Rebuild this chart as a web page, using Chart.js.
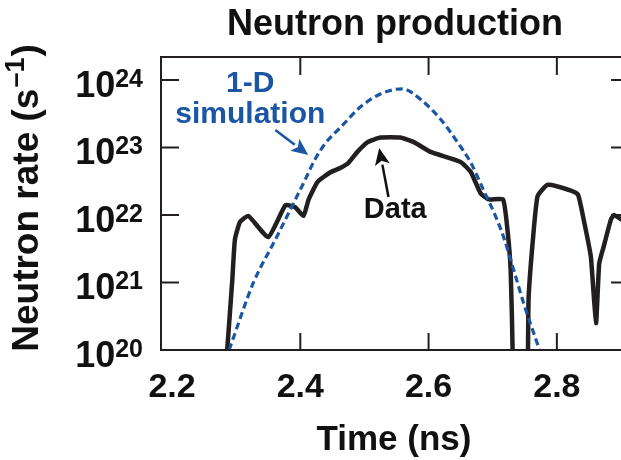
<!DOCTYPE html>
<html>
<head>
<meta charset="utf-8">
<style>
  html, body { margin: 0; padding: 0; background: #fff; }
  #wrap { width: 621px; height: 460px; }
</style>
</head>
<body>
<div id="wrap"><canvas id="chartneutron" width="621" height="460"></canvas></div>
<script src="https://cdn.jsdelivr.net/npm/chart.js@4/dist/chart.umd.min.js"></script>
<script>

// Data Storage {

    // Measured neutron rate (time in ns, rate in 1/s) {

        const dt = [
            2.286, 2.294, 2.298, 2.306, 2.319, 2.350, 2.377, 2.392, 2.405, 2.413,
            2.427, 2.447, 2.463, 2.475, 2.489, 2.505, 2.525, 2.556, 2.577, 2.603,
            2.650, 2.666, 2.681, 2.694, 2.716, 2.723, 2.728, 2.731, 2.733, 2.753,
            2.755, 2.756, 2.763, 2.770, 2.786, 2.822, 2.833, 2.842, 2.853, 2.861,
            2.866, 2.873, 2.884, 2.889, 2.902
        ];

        const dr = [
            1.0e20, 1.1e21, 4.3e21, 7.9e21, 9.7e21, 4.7e21, 1.4e22, 1.3e22, 9.7e21, 1.7e22,
            3.1e22, 4.3e22, 5.0e22, 5.9e22, 8.6e22, 1.2e23, 1.4e23, 1.4e23, 1.2e23, 8.6e22,
            6.1e22, 4.3e22, 2.1e22, 1.7e22, 1.7e22, 6.0e21, 1.5e21, 1.0e20, 1e18, 1e18,
            1.0e20, 6.1e20, 4.7e21, 1.9e22, 2.8e22, 2.3e22, 2.0e22, 8.4e21, 2.4e21, 2.5e20,
            1.9e21, 3.4e21, 8.4e21, 1.0e22, 8.4e21
        ];

    // };

    // 1-D simulation {

        const st = [
            2.289, 2.327, 2.361, 2.388, 2.408, 2.423, 2.439, 2.463, 2.494, 2.525,
            2.559, 2.588, 2.619, 2.645, 2.666, 2.686, 2.705, 2.717, 2.733, 2.748,
            2.773
        ];

        const sr = [
            1.0e20, 1.0e21, 4.3e21, 1.4e22, 3.4e22, 6.7e22, 1.15e23, 2.0e23, 4.0e23, 6.2e23,
            7.4e23, 5.1e23, 2.6e23, 1.2e23, 5.9e22, 2.3e22, 9.3e21, 4.7e21, 1.5e21, 5.0e20,
            1.0e20
        ];

    // };

    // Ticks {

        const xt = [2.2, 2.4, 2.6, 2.8];
        const ye = [20, 21, 22, 23, 24];

    // };

// };

// Style {

    const ff = '"Liberation Sans", Arial, Helvetica, sans-serif';
    const ink = '#231f20';
    const blue = '#1a56a4';

// };

// Draw axes, labels and notes {

    function arrow(c, x0, y0, x1, y1, col) {
        const an = Math.atan2(y1 - y0, x1 - x0);
        const hl = 17, hw = 7.5;
        const bx = x1 - hl * Math.cos(an), by = y1 - hl * Math.sin(an);
        c.strokeStyle = col; c.fillStyle = col; c.lineWidth = 2.5;
        c.beginPath(); c.moveTo(x0, y0); c.lineTo(bx, by); c.stroke();
        c.beginPath();
        c.moveTo(x1, y1);
        c.lineTo(bx + hw * Math.sin(an), by - hw * Math.cos(an));
        c.lineTo(x1 - (hl - 4) * Math.cos(an), y1 - (hl - 4) * Math.sin(an));
        c.lineTo(bx - hw * Math.sin(an), by + hw * Math.cos(an));
        c.closePath(); c.fill();
    }

    const frame = {
        id: 'frame',
        afterDatasetsDraw(chart) {
            const c = chart.ctx, a = chart.chartArea;
            const xs = chart.scales.x, ys = chart.scales.y;
            const px = v => xs.getPixelForValue(v);
            const py = v => ys.getPixelForValue(v);
            c.save();

            // box
            c.strokeStyle = ink; c.lineWidth = 2;
            c.beginPath();
            c.moveTo(a.right + 10, a.top); c.lineTo(a.left, a.top);
            c.lineTo(a.left, a.bottom); c.lineTo(a.right + 10, a.bottom);
            c.stroke();

            // ticks
            c.beginPath();
            ye.forEach(e => {
                const y = py(Math.pow(10, e));
                c.moveTo(a.left, y); c.lineTo(a.left + 18, y);
                c.moveTo(a.right - 10, y); c.lineTo(a.right + 10, y);
            });
            xt.forEach(t => {
                const x = px(t);
                if (x - a.left < 15) return;
                c.moveTo(x, a.bottom); c.lineTo(x, a.bottom - 17);
                c.moveTo(x, a.top); c.lineTo(x, a.top + 18);
            });
            c.stroke();

            // tick labels
            c.fillStyle = '#111';
            c.textBaseline = 'alphabetic';
            ye.forEach(e => {
                const y = py(Math.pow(10, e));
                const r = a.left - 18;
                c.font = 'bold 25px ' + ff;
                c.textAlign = 'right';
                const ew = c.measureText(String(e)).width;
                c.fillText(String(e), r, y + 7);
                c.font = 'bold 36px ' + ff;
                c.fillText('10', r - ew, y + 17);
            });
            c.font = 'bold 34px ' + ff;
            c.textAlign = 'center';
            xt.forEach(t => c.fillText(t.toFixed(1), px(t), a.bottom + 47));

            // titles
            c.font = 'bold 36px ' + ff;
            c.fillText('Neutron production', 395, 35);
            c.font = 'bold 35px ' + ff;
            c.fillText('Time (ns)', 394, 450);

            c.save();
            c.translate(38, 198);
            c.rotate(-Math.PI / 2);
            c.textAlign = 'left';
            const p1 = 'Neutron rate (s', p2 = '\u20131', p3 = ')';
            c.font = 'bold 37px ' + ff;
            const w1 = c.measureText(p1).width, w3 = c.measureText(p3).width;
            c.font = 'bold 27px ' + ff;
            const w2 = c.measureText(p2).width;
            let x0 = -(w1 + w2 + w3 + 2) / 2;
            c.font = 'bold 37px ' + ff;
            c.fillText(p1, x0, 0);
            c.font = 'bold 27px ' + ff;
            c.fillText(p2, x0 + w1 + 1, -14);
            c.font = 'bold 37px ' + ff;
            c.fillText(p3, x0 + w1 + w2 + 2, 0);
            c.restore();

            // notes
            c.textAlign = 'center';
            c.fillStyle = blue;
            c.font = 'bold 30px ' + ff;
            c.fillText('1-D', px(2.322), py(Math.pow(10, 23.822)));
            c.fillText('simulation', px(2.322), py(Math.pow(10, 23.363)));
            arrow(c, px(2.361), py(Math.pow(10, 23.259)), px(2.4125), py(Math.pow(10, 22.889)), blue);

            c.fillStyle = '#111';
            c.font = 'bold 29px ' + ff;
            c.fillText('Data', px(2.548), py(Math.pow(10, 21.956)));
            arrow(c, px(2.5375), py(Math.pow(10, 22.267)), px(2.523), py(Math.pow(10, 22.993)), '#111');

            c.restore();
        }
    };

// };

// Chart {

    const cn = document.getElementById('chartneutron').getContext('2d');

    const neutron = {
        datasets: [
            {
                label: '1-D simulation',
                data: st.map((t, i) => ({ x: t, y: sr[i] })),
                borderColor: blue,
                borderWidth: 3.2,
                borderDash: [7, 4],
                pointRadius: 0,
                cubicInterpolationMode: 'monotone',
                fill: false
            },
            {
                label: 'Data',
                data: dt.map((t, i) => ({ x: t, y: dr[i] })),
                borderColor: ink,
                borderWidth: 4.5,
                pointRadius: 0,
                tension: 0.15,
                borderJoinStyle: 'round',
                fill: false
            }
        ]
    };

    const cnp = new Chart(cn, {
        type: 'line',
        data: neutron,
        options: {
            responsive: false,
            animation: false,
            devicePixelRatio: 1,
            layout: { padding: { left: 161, top: 57, right: 0, bottom: 110 } },
            plugins: { legend: { display: false }, tooltip: { enabled: false } },
            scales: {
                x: { type: 'linear', min: 2.1828, max: 2.9, display: false },
                y: { type: 'logarithmic', min: 1e20, max: Math.pow(10, 24.34), display: false }
            }
        },
        plugins: [frame]
    });

// };

</script>
</body>
</html>
